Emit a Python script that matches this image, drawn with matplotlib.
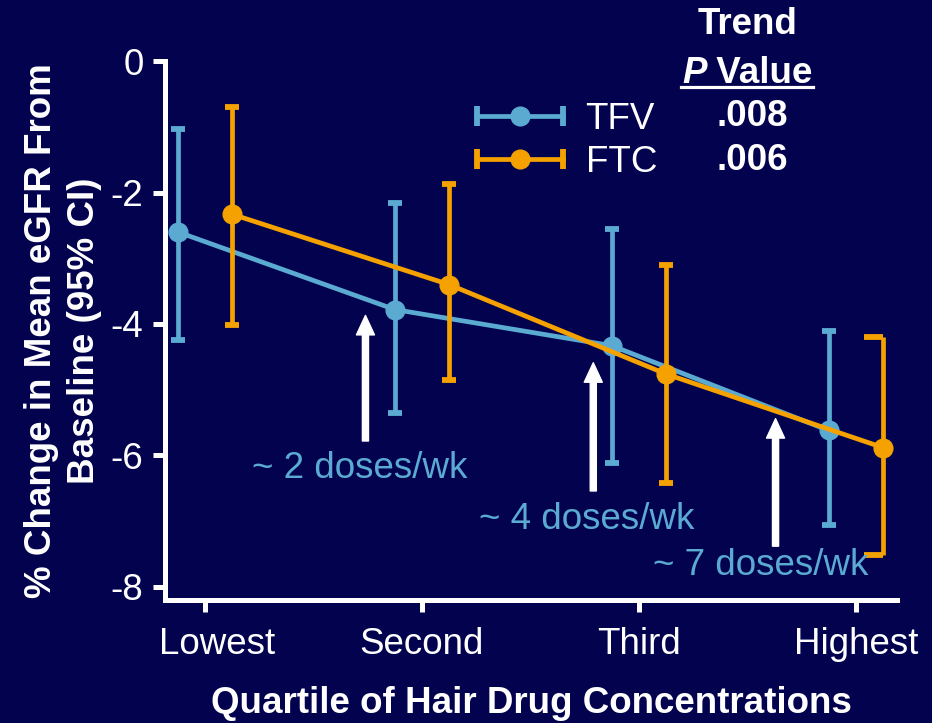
import matplotlib.pyplot as plt
from matplotlib.lines import Line2D
from matplotlib.transforms import IdentityTransform, ScaledTranslation
from matplotlib.legend_handler import HandlerLine2D

# change in mean eGFR by hair drug concentration quartile
quartiles = ['Lowest', 'Second', 'Third', 'Highest']

tfv_mean = [-2.60, -3.78, -4.33, -5.62]
tfv_lo = [-4.25, -5.35, -6.11, -7.06]
tfv_hi = [-1.04, -2.16, -2.55, -4.11]

ftc_mean = [-2.33, -3.40, -4.76, -5.88]
ftc_lo = [-4.01, -4.85, -6.42, -7.52]
ftc_hi = [-0.70, -1.87, -3.11, -4.20]

drugs = ['TFV', 'FTC']
p_values = ['.008', '.006']

dose_labels = ['~ 2 doses/wk', '~ 4 doses/wk', '~ 7 doses/wk']

BG = '#02024F'
BLUE = '#5AAAD2'
ORANGE = '#F5A200'
FS = 26.5

plt.rcParams['font.family'] = ['Liberation Sans', 'DejaVu Sans']
plt.rcParams['axes.unicode_minus'] = False

W, H = 932, 723


def fig_xy(px, py):
    return px / W, 1 - py / H


fig = plt.figure(figsize=(W / 100, H / 100), dpi=100, facecolor=BG)
ax = fig.add_axes([0.177, 0.170, 0.7855, 0.7456], facecolor=BG)

offset = 0.125
# caps: (left, right) half widths; the last FTC cap only reaches left
series = [
    (tfv_mean, tfv_lo, tfv_hi, BLUE, -offset, [(0.032, 0.032)] * 4, 3),
    (ftc_mean, ftc_lo, ftc_hi, ORANGE, offset, [(0.032, 0.032)] * 3 + [(0.088, 0.0)], 4),
]

for mean, lo, hi, color, dx, caps, z in series:
    x = [i + 1 + dx for i in range(len(mean))]
    yerr = [[m - l for m, l in zip(mean, lo)], [h - m for m, h in zip(mean, hi)]]
    ax.errorbar(x, mean, yerr=yerr, color=color, lw=3.4, elinewidth=3.4,
                marker='o', ms=13.5, capsize=0, zorder=z)
    for xi, l, h, (cl, cr) in zip(x, lo, hi, caps):
        ax.hlines([l, h], xi - cl, xi + cr, color=color, lw=4.2, zorder=z)

# arrows marking the dosing levels
arrow_x = [1.74, 2.79, 3.63]
arrow_tail = [-5.78, -6.54, -7.38]
arrow_tip = [-3.87, -4.59, -5.44]
label_xy = [(1.715, -6.2), (2.76, -6.97), (3.56, -7.68)]

for xa, yt, yh, text, (lx, ly) in zip(arrow_x, arrow_tail, arrow_tip, dose_labels, label_xy):
    ax.annotate('', xy=(xa, yh), xytext=(xa, yt),
                arrowprops=dict(arrowstyle='simple,head_length=0.7,head_width=0.65,tail_width=0.22',
                                mutation_scale=20, color='white', shrinkA=0, shrinkB=0),
                zorder=5)
    ax.text(lx, ly, text, color=BLUE, fontsize=FS, ha='center', va='center', zorder=6)

ax.set_xlim(0.816, 4.19)
ax.set_ylim(-8.2, 0)
ax.set_xticks(range(1, 5))
ax.set_xticklabels(quartiles)
ax.set_yticks([0, -2, -4, -6, -8])

for side in ['top', 'right']:
    ax.spines[side].set_visible(False)
for side in ['left', 'bottom']:
    ax.spines[side].set_color('white')
    ax.spines[side].set_linewidth(3.6)

ax.tick_params(direction='out', length=8.5, width=3.6, color='white',
               labelcolor='white', labelsize=FS)
ax.tick_params(axis='y', pad=7)
ax.tick_params(axis='x', pad=11)

# first quartile label sits a little right of its tick
first = ax.get_xticklabels()[0]
first.set_transform(first.get_transform() + ScaledTranslation(0.12, 0, fig.dpi_scale_trans))

ax.set_xlabel('Quartile of Hair Drug Concentrations', color='white',
              fontsize=FS, fontweight='bold', labelpad=17)
ax.set_ylabel('% Change in Mean eGFR From\nBaseline (95% CI)', color='white',
              fontsize=FS, fontweight='bold', labelpad=6, linespacing=1.32)


# legend keys: line with end caps and a dot in the middle
def legend_key(color):
    bar = Line2D([], [], color=color, lw=3.4, marker='|', ms=14, mew=4.2)
    dot = Line2D([], [], color=color, lw=0, marker='o', ms=13.5)
    return (bar, dot)


keys = [legend_key(BLUE), legend_key(ORANGE)]
hmap = {}
for bar, dot in keys:
    hmap[bar] = HandlerLine2D(numpoints=2, marker_pad=0)
    hmap[dot] = HandlerLine2D(numpoints=1)

ax.legend(keys, drugs, handler_map=hmap, loc='upper left',
          bbox_to_anchor=fig_xy(477, 102), bbox_transform=fig.transFigure,
          frameon=False, fontsize=FS, labelcolor='white', borderpad=0,
          borderaxespad=0, handlelength=2.35, handletextpad=0.6, labelspacing=0.22)

# trend P value column
fig.text(*fig_xy(748, 25), 'Trend', color='white', fontsize=FS,
         fontweight='bold', ha='center', va='center')
t_p = fig.text(*fig_xy(682, 91), 'P', color='white', fontsize=FS,
               fontweight='bold', style='italic', ha='left', va='bottom')
t_v = ax.annotate(' Value', xy=(1, 0), xycoords=t_p, color='white', fontsize=FS,
                  fontweight='bold', ha='left', va='bottom', annotation_clip=False)
for pv, py in zip(p_values, [117, 160]):
    fig.text(*fig_xy(752, py), pv, color='white', fontsize=FS,
             fontweight='bold', ha='center', va='center')

fig.canvas.draw()
renderer = fig.canvas.get_renderer()
b1 = t_p.get_window_extent(renderer)
b2 = t_v.get_window_extent(renderer)
uy = b1.y0 + 4
fig.add_artist(Line2D([b1.x0 - 1, b2.x1], [uy, uy], color='white', lw=2.3,
                      transform=IdentityTransform()))

fig.savefig('out.png', dpi=100, facecolor=BG)
